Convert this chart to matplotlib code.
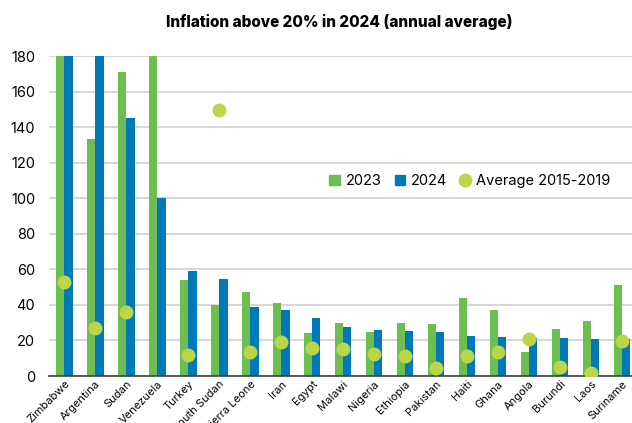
import numpy as np
import matplotlib
matplotlib.use("Agg")
import matplotlib.pyplot as plt
from matplotlib.lines import Line2D
from matplotlib.patches import Patch

plt.rcParams['font.family'] = ['Inter', 'DejaVu Sans']

countries = ["Zimbabwe", "Argentina", "Sudan", "Venezuela", "Turkey", "South Sudan",
             "Sierra Leone", "Iran", "Egypt", "Malawi", "Nigeria", "Ethiopia",
             "Pakistan", "Haiti", "Ghana", "Angola", "Burundi", "Laos", "Suriname"]
infl_2023 = [180, 133.1, 171.2, 180, 53.8, 40.1, 47.2, 40.9, 24.0, 29.8, 24.6, 29.8,
             29.1, 44.1, 37.3, 13.3, 26.4, 30.9, 51.4]
infl_2024 = [180, 180, 145.3, 100, 59.2, 54.7, 38.6, 37.1, 32.4, 27.6, 26.1, 25.5,
             24.6, 22.5, 22.1, 21.6, 21.6, 21.0, 20.6]
avg_1519 = [52.7, 27.2, 36.0, np.nan, 11.8, 149.4, 13.7, 19.1, 15.9, 15.0, 12.6, 11.0,
            4.7, 11.2, 13.3, 21.0, 5.3, 1.9, 19.7]

green = "#6cbf4f"
blue = "#0079b8"
lime = "#bcd64a"

fig = plt.figure(figsize=(6.32, 4.23), dpi=100)
ax = fig.add_axes([0.0775, 0.111, 0.9225, 0.7566])

x = np.arange(len(countries))
w = 0.27
ax.bar(x - w / 2, infl_2023, w, color=green, zorder=2)
ax.bar(x + w / 2, infl_2024, w, color=blue, zorder=2)
ax.plot(x, avg_1519, "o", color=lime, markersize=9, zorder=3, clip_on=True)

ax.set_ylim(0, 180)
ax.set_xlim(-0.49, 18.32)
ax.set_yticks(range(0, 181, 20))
ax.yaxis.grid(True, color="#cfcfcf", linewidth=1.2, zorder=0)
ax.set_axisbelow(True)
for s in ["top", "right", "left"]:
    ax.spines[s].set_visible(False)
ax.spines["bottom"].set_color("#404040")
ax.spines["bottom"].set_linewidth(1.2)
ax.tick_params(axis="y", length=0, labelsize=10.5, pad=10)
ax.tick_params(axis="x", length=0, labelsize=8, pad=2)
ax.set_xticks(x)
ax.set_xticklabels(countries, rotation=45, ha="right", rotation_mode="anchor")

fig.text(0.537, 0.947, "Inflation above 20% in 2024 (annual average)",
         ha="center", va="center", fontsize=11, fontweight="heavy")

handles = [Patch(color=green, label="2023"), Patch(color=blue, label="2024"),
           Line2D([], [], marker="o", color=lime, linestyle="", markersize=9,
                  label="Average 2015-2019")]
ax.legend(handles=handles, ncol=3, loc="center", bbox_to_anchor=(0.722, 0.609),
          frameon=False, fontsize=10.5, handlelength=0.7, handleheight=0.7,
          handletextpad=0.4, columnspacing=0.9)

fig.savefig("out.png")
